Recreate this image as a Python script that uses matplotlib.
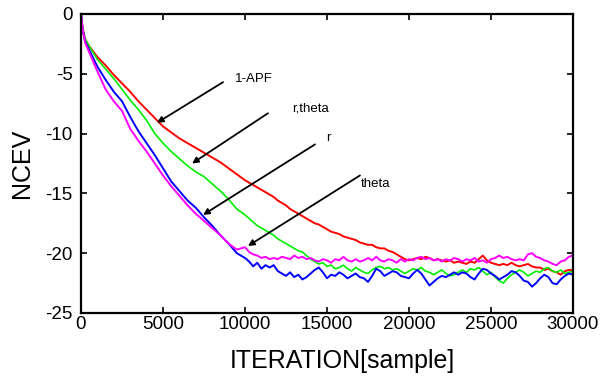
import numpy as np
import matplotlib
matplotlib.use("Agg")
import matplotlib.pyplot as plt

plt.rcParams['font.family'] = ['Liberation Sans', 'DejaVu Sans']
plt.rcParams['axes.unicode_minus'] = False

# iteration grid: coarse at the start, finer in the noisy tail
iters = np.concatenate([[0, 100, 250], np.arange(500, 10001, 500), np.arange(10250, 30001, 250)])

apf = [0, -1.2, -2.1, -2.7,
       -3.6, -4.3, -5.1, -5.8, -6.5, -7.3, -8.0, -8.7, -9.4, -9.9,
       -10.4, -10.8, -11.2, -11.6, -12.0, -12.4, -12.9, -13.4, -13.9,
       -14.1, -14.3, -14.5, -14.7, -14.9, -15.1, -15.3, -15.6, -15.8, -16.0,
       -16.3, -16.5, -16.7, -16.9, -17.1, -17.3, -17.5, -17.6, -17.8, -18.0,
       -18.2, -18.3, -18.4, -18.6, -18.7, -18.8, -18.9, -19.1, -19.2, -19.3,
       -19.3, -19.5, -19.6, -19.6, -19.8, -19.9, -20.1, -20.3, -20.5, -20.6,
       -20.5, -20.4, -20.5, -20.3, -20.4, -20.6, -20.5, -20.6, -20.7, -20.6,
       -20.8, -20.7, -20.8, -20.9, -20.7, -20.8, -20.5, -20.2, -20.6, -20.8,
       -20.9, -21.0, -20.9, -21.0, -20.8, -21.0, -21.1, -21.0, -20.9, -21.1,
       -21.2, -21.2, -21.4, -21.3, -21.5, -21.6, -21.8, -21.5, -21.4, -21.4]

r_theta = [0, -1.2, -2.1, -2.7,
           -3.8, -4.6, -5.4, -6.3, -7.2, -8.0, -8.9, -10.0, -10.8, -11.5,
           -12.1, -12.7, -13.2, -13.6, -14.2, -14.8, -15.5, -16.3, -16.8,
           -17.1, -17.4, -17.7, -17.9, -18.1, -18.3, -18.5, -18.8, -19.0, -19.2,
           -19.4, -19.6, -19.8, -19.9, -20.2, -20.5, -20.7, -20.9, -20.8, -21.1,
           -21.0, -21.3, -21.2, -21.0, -21.3, -21.5, -21.2, -21.4, -21.6, -21.7,
           -21.4, -21.2, -21.1, -21.3, -21.2, -21.4, -21.3, -21.5, -21.7, -21.5,
           -21.3, -21.4, -21.2, -21.5, -21.6, -21.8, -21.6, -21.4, -21.7, -21.9,
           -21.8, -21.6, -21.4, -21.6, -21.3, -21.4, -21.2, -21.5, -21.8, -21.6,
           -22.0, -22.3, -22.5, -22.1, -21.8, -21.6, -21.4, -21.6, -21.9, -21.7,
           -21.5, -21.6, -21.3, -21.2, -21.5, -21.6, -21.4, -21.7, -21.6, -21.5]

r_only = [0, -1.3, -2.3, -3.0,
          -4.4, -5.5, -6.5, -7.3, -8.6, -9.8, -10.8, -11.8, -12.9, -14.0,
          -14.8, -15.6, -16.2, -17.0, -17.7, -18.5, -19.2, -20.0, -20.4,
          -20.7, -21.1, -20.8, -21.3, -21.0, -21.2, -21.0, -21.5, -21.7, -21.9,
          -21.6, -22.0, -21.8, -22.2, -22.0, -21.7, -21.4, -21.2, -21.6, -22.1,
          -21.8, -21.9, -21.6, -21.8, -22.1, -21.9, -21.7, -22.0, -22.1, -22.4,
          -21.9, -21.3, -21.5, -21.9, -21.7, -21.5, -21.6, -21.9, -22.0, -22.1,
          -21.7, -21.4, -21.7, -22.2, -22.7, -22.4, -22.1, -21.9, -22.0, -21.8,
          -21.6, -21.8, -21.6, -21.7, -22.0, -22.2, -21.7, -21.3, -21.4, -21.7,
          -21.9, -22.2, -22.0, -21.8, -21.5, -21.6, -21.9, -22.3, -22.4, -22.8,
          -22.5, -22.1, -21.8, -22.0, -22.5, -22.6, -22.2, -21.9, -21.7, -21.8]

theta = [0, -1.3, -2.4, -3.2,
         -4.8, -6.3, -7.3, -8.1, -9.6, -10.6, -11.5, -12.5, -13.5, -14.4,
         -15.2, -16.0, -16.7, -17.3, -17.9, -18.5, -19.2, -19.7, -19.5,
         -19.9, -20.1, -20.2, -20.4, -20.3, -20.5, -20.4, -20.5, -20.3, -20.4,
         -20.5, -20.2, -20.4, -20.3, -20.5, -20.4, -20.6, -20.7, -20.5, -20.6,
         -20.8, -20.5, -20.6, -20.3, -20.6, -20.7, -20.5, -20.7, -20.6, -20.4,
         -20.6, -20.3, -20.6, -20.7, -20.5, -20.6, -20.8, -20.5, -20.7, -20.5,
         -20.6, -20.4, -20.3, -20.5, -20.4, -20.6, -20.5, -20.7, -20.5, -20.6,
         -20.4, -20.5, -20.7, -20.5, -20.6, -20.4, -20.7, -20.6, -20.8, -20.5,
         -20.4, -20.2, -20.4, -20.3, -20.5, -20.6, -20.5, -20.6, -20.1, -20.0,
         -20.3, -20.4, -20.6, -20.7, -20.9, -21.0, -20.7, -20.6, -20.3, -20.2]

assert len(apf) == len(iters) and len(r_theta) == len(iters)
assert len(r_only) == len(iters) and len(theta) == len(iters)

# label text, text position, arrow start, arrow tip
notes = [("1-APF", (9390, -5.4), (8660, -5.7), (4630, -9.1)),
         ("r,theta", (12870, -7.9), (11400, -8.3), (6770, -12.5)),
         ("r", (14950, -10.4), (14270, -10.9), (7440, -16.8)),
         ("theta", (17050, -14.2), (17010, -13.5), (10180, -19.4))]

fig = plt.figure(figsize=(6, 3.78), dpi=100)
ax = fig.add_axes([0.135, 0.172, 0.82, 0.791])

ax.plot(iters, apf, color='#ff0000', lw=1.4)
ax.plot(iters, r_theta, color='#00ee00', lw=1.2)
ax.plot(iters, r_only, color='#0000ff', lw=1.4)
ax.plot(iters, theta, color='#ff00ff', lw=1.4)

for label, tpos, start, tip in notes:
    ax.annotate('', xy=tip, xytext=start,
                arrowprops=dict(arrowstyle='-|>', color='k', lw=1.3, mutation_scale=9, shrinkA=0, shrinkB=0))
    ax.text(tpos[0], tpos[1], label, fontsize=9.5, ha='left', va='center')

ax.set_xlim(0, 30000)
ax.set_ylim(-25, 0)
ax.set_xticks([0, 5000, 10000, 15000, 20000, 25000, 30000])
ax.set_yticks([-25, -20, -15, -10, -5, 0])
ax.tick_params(direction='in', top=True, right=True, length=4, width=1.2, labelsize=13.5)
ax.tick_params(axis='x', pad=2)
ax.tick_params(axis='y', pad=6)
for s in ax.spines.values():
    s.set_linewidth(1.6)

fig.text(0.57, 0.045, 'ITERATION[sample]', fontsize=18, ha='center', va='center')
fig.text(0.037, 0.569, 'NCEV', fontsize=18, rotation=90, ha='center', va='center')

fig.savefig('out.png', dpi=100)
